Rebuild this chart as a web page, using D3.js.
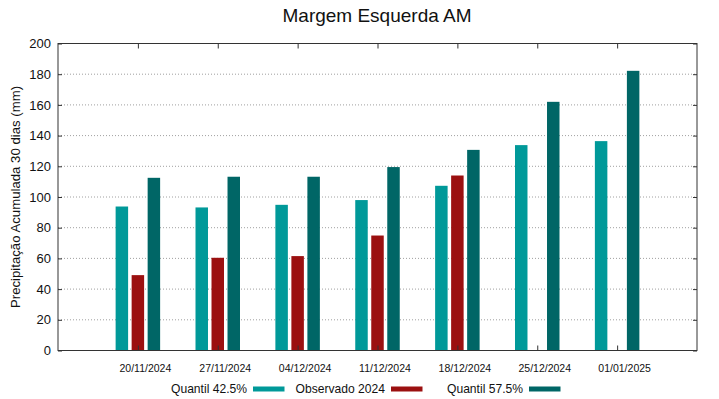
<!DOCTYPE html>
<html>
<head>
<meta charset="utf-8">
<script src="https://cdn.jsdelivr.net/npm/d3@7"></script>
<style>
  body { margin: 0; background: #fff; }
  svg { font-family: "Liberation Sans", Arial, sans-serif; }
  .grid line { stroke: #888; stroke-dasharray: 1,2; stroke-width: 0.8; }
</style>
</head>
<body>
<div id="chart"></div>
<script>
// datas e valores
let dates=["20/11/2024","27/11/2024","04/12/2024","11/12/2024","18/12/2024","25/12/2024","01/01/2025"]
let quantil425=[93.8,93.2,94.9,98.0,107.3,133.8,136.4]
let observado=[49.1,60.4,61.5,74.9,114.0,null,null]
let quantil575=[112.5,113.2,113.2,119.5,130.7,162.0,182.2]
let yTicks=[0,20,40,60,80,100,120,140,160,180,200]

let seriesNames=["Quantil 42.5%","Observado 2024","Quantil 57.5%"]
let seriesColors=["#009999","#9b1010","#006666"]
let seriesValues=[quantil425,observado,quantil575]

let width=719, height=399
let plotLeft=58, plotRight=697, plotTop=43.5, plotBottom=350.5
let fontFam="'Liberation Sans', Arial, sans-serif"

let svg=d3.select("#chart").append("svg").attr("width",width).attr("height",height)

//escalas
let xScale=d3.scalePoint().domain(dates).range([plotLeft,plotRight]).padding(1)
let inner=d3.scaleBand().domain(seriesNames).range([-22.25,22.25]).paddingInner(0.22)
let yScale=d3.scaleLinear().domain([0,200]).range([plotBottom,plotTop])

//grade horizontal
svg.append("g").attr("class","grid").selectAll("line").data(yTicks.filter(d=>d>0&&d<200)).enter().append("line")
  .attr("x1",plotLeft).attr("x2",plotRight).attr("y1",d=>yScale(d)).attr("y2",d=>yScale(d))

//barras
seriesNames.forEach((name,s)=>{
  let vals=dates.map((d,i)=>({date:d,v:seriesValues[s][i]})).filter(d=>d.v!=null)
  svg.append("g").selectAll("rect").data(vals).enter().append("rect")
    .attr("x",d=>xScale(d.date)+inner(name))
    .attr("width",inner.bandwidth())
    .attr("y",d=>yScale(d.v))
    .attr("height",d=>yScale(0)-yScale(d.v))
    .attr("fill",seriesColors[s])
})

//eixos
let axisL=d3.axisLeft(yScale).tickValues(yTicks).tickSize(-4).tickPadding(7)
let gL=svg.append("g").attr("transform","translate("+plotLeft+",0)").call(axisL)
gL.selectAll("text").attr("font-size",13).attr("font-family",fontFam).attr("fill","#111")
let axisR=d3.axisRight(yScale).tickValues(yTicks).tickSize(-4).tickFormat("")
svg.append("g").attr("transform","translate("+plotRight+",0)").call(axisR)

let axisB=d3.axisBottom(xScale).tickSize(-5).tickPadding(14)
let gB=svg.append("g").attr("transform","translate(0,"+plotBottom+")").call(axisB)
gB.selectAll("text").attr("font-size",10.5).attr("dx",7).attr("font-family",fontFam).attr("fill","#111")
let axisT=d3.axisTop(xScale).tickSize(-5).tickFormat("")
svg.append("g").attr("transform","translate(0,"+plotTop+")").call(axisT)

svg.selectAll(".domain").remove()
svg.selectAll(".tick line").attr("stroke","#333")
svg.append("rect").attr("x",plotLeft).attr("y",plotTop).attr("width",plotRight-plotLeft).attr("height",plotBottom-plotTop)
  .attr("fill","none").attr("stroke","#333").attr("stroke-width",1)

//titulo e rotulos
svg.append("text").attr("x",377).attr("y",22).attr("text-anchor","middle").attr("font-size",19).attr("fill","#111").text("Margem Esquerda AM")
svg.append("text").attr("transform","translate(20,197) rotate(-90)").attr("text-anchor","middle").attr("font-size",13.2).attr("fill","#111")
  .text("Precipitação Acumulada 30 dias (mm)")

//legenda
let legendTextEnd=[247,385,523]
let legend=svg.append("g").attr("id","legend")
seriesNames.forEach((name,s)=>{
  legend.append("text").attr("x",legendTextEnd[s]).attr("y",392.5).attr("text-anchor","end").attr("font-size",12.1).attr("fill","#111").text(name)
  legend.append("rect").attr("x",legendTextEnd[s]+6).attr("y",386.5).attr("width",31.5).attr("height",5).attr("fill",seriesColors[s])
})
</script>
</body>
</html>
